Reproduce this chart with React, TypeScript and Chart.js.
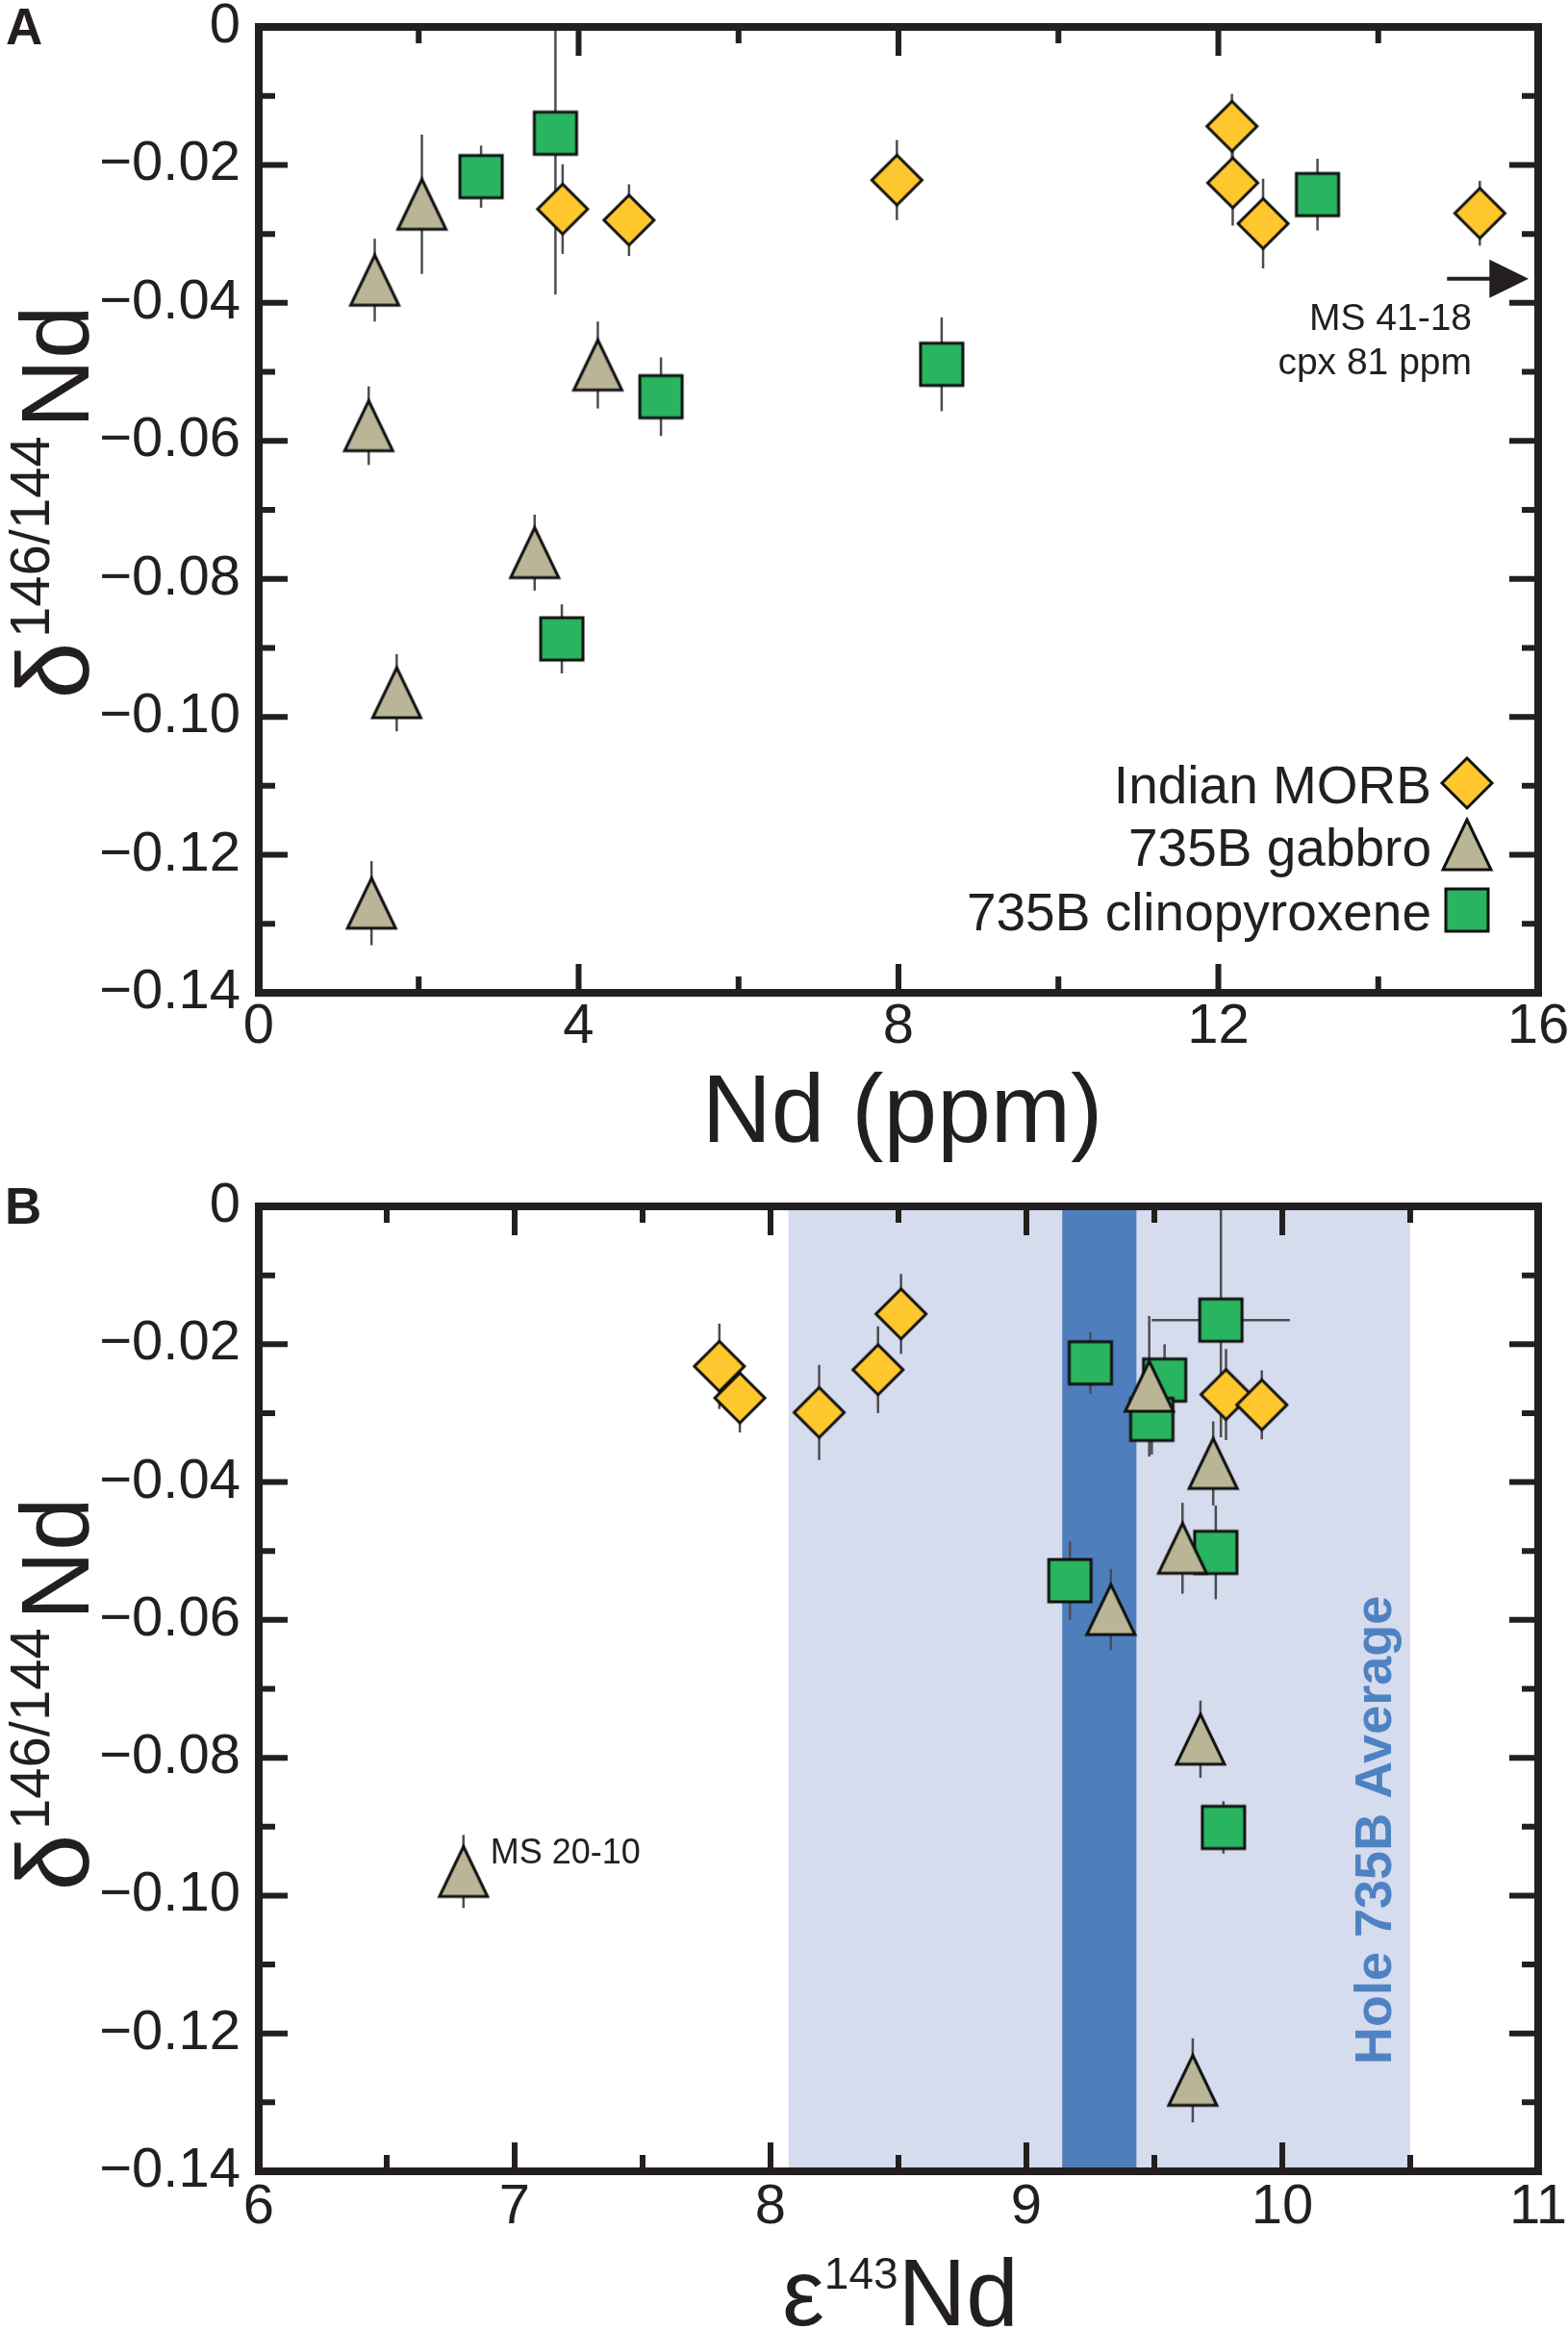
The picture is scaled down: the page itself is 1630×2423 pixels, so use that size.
import { useEffect, useRef } from 'react'
import { Chart, registerables } from 'chart.js'

Chart.register(...registerables)

const FONT = '"Liberation Sans", Arial, Helvetica, sans-serif'
const INK = '#231f20'

// Panel A: Nd (ppm) vs delta146/144Nd
const morbNdA = [3.8, 4.63, 7.98, 12.17, 12.18, 12.56, 15.27]
const morbDeltaA = [-0.0264, -0.028, -0.0222, -0.0144, -0.0226, -0.0285, -0.027]
const morbErrA = [0.0065, 0.0052, 0.0058, 0.0047, 0.0062, 0.0065, 0.0047]

const gabbroNdA = [2.04, 1.45, 1.375, 3.45, 1.725, 1.41, 4.24]
const gabbroDeltaA = [-0.0257, -0.0367, -0.0578, -0.0762, -0.0965, -0.127, -0.049]
const gabbroErrA = [0.0101, 0.006, 0.0057, 0.0055, 0.0056, 0.0061, 0.0063]

const cpxNdA = [2.78, 3.71, 5.03, 3.79, 13.24, 8.54]
const cpxDeltaA = [-0.0217, -0.0154, -0.0536, -0.0887, -0.0243, -0.0489]
const cpxErrA = [0.0045, 0.0234, 0.0057, 0.005, 0.0052, 0.0068]

// Panel B: epsilon143Nd vs delta146/144Nd
const morbEpsB = [7.8, 7.88, 8.19, 8.42, 8.51, 9.78, 9.92]
const morbDeltaB = [-0.0232, -0.0278, -0.0299, -0.0237, -0.0156, -0.0273, -0.0288]
const morbErrB = [0.0062, 0.005, 0.0069, 0.0063, 0.0058, 0.0066, 0.005]

const gabbroEpsB = [9.48, 9.73, 9.61, 9.33, 9.68, 9.65, 6.8]
const gabbroDeltaB = [-0.0261, -0.0373, -0.0496, -0.0585, -0.0773, -0.1268, -0.0965]
const gabbroErrB = [0.0102, 0.0061, 0.0066, 0.0059, 0.0056, 0.0061, 0.0053]

const cpxEpsB = [9.25, 9.54, 9.49, 9.76, 9.17, 9.74, 9.77]
const cpxDeltaB = [-0.0227, -0.0252, -0.0309, -0.0165, -0.0543, -0.0502, -0.0901]
const cpxErrB = [0.0045, 0.0052, 0.0051, 0.017, 0.0057, 0.0068, 0.0038]
const cpxEpsErrB = [0, 0, 0, 0.27, 0, 0, 0]

// Hole 735B average (full band and mean band)
const holeRange = [8.07, 10.5]
const holeMean = [9.14, 9.43]

// axis ranges
const deltaRange = [-0.14, 0]
const ndRange = [0, 16]
const epsRange = [6, 11]

const colors = {
  morb: '#fec72e',
  gabbro: '#b9b596',
  cpx: '#29b45f',
  err: '#4d4d4f',
  bandLight: '#d5dcee',
  bandDark: '#4e7fbc',
  holeText: '#4f82c2',
}

type Series = { xs: number[]; ys: number[]; yErr: number[]; xErr?: number[] }

function marker(kind: 'diamond' | 'triangle' | 'square') {
  const c = document.createElement('canvas')
  const w = kind === 'diamond' ? 58 : kind === 'triangle' ? 56 : 50
  const h = kind === 'diamond' ? 58 : kind === 'triangle' ? 58 : 50
  c.width = w
  c.height = h
  const g = c.getContext('2d')!
  const cx = w / 2
  const cy = h / 2
  g.beginPath()
  if (kind === 'diamond') {
    g.moveTo(cx, cy - 26)
    g.lineTo(cx + 26, cy)
    g.lineTo(cx, cy + 26)
    g.lineTo(cx - 26, cy)
    g.fillStyle = colors.morb
  } else if (kind === 'triangle') {
    g.moveTo(cx, cy - 26)
    g.lineTo(cx + 25, cy + 26)
    g.lineTo(cx - 25, cy + 26)
    g.fillStyle = colors.gabbro
  } else {
    g.rect(cx - 22, cy - 22, 44, 44)
    g.fillStyle = colors.cpx
  }
  g.closePath()
  g.fill()
  g.lineWidth = 3
  g.lineJoin = 'miter'
  g.strokeStyle = '#111'
  g.stroke()
  return c
}

function drawErrors(chart: any, series: Series[]) {
  const { ctx, chartArea: a, scales } = chart
  const x = scales.x
  const y = scales.y
  ctx.save()
  ctx.beginPath()
  ctx.rect(a.left, a.top, a.width, a.height)
  ctx.clip()
  ctx.strokeStyle = colors.err
  ctx.lineWidth = 2.5
  series.forEach((s) => {
    s.xs.forEach((xv, i) => {
      const px = x.getPixelForValue(xv)
      const py = y.getPixelForValue(s.ys[i])
      ctx.beginPath()
      ctx.moveTo(px, y.getPixelForValue(s.ys[i] + s.yErr[i]))
      ctx.lineTo(px, y.getPixelForValue(s.ys[i] - s.yErr[i]))
      ctx.stroke()
      const xe = s.xErr ? s.xErr[i] : 0
      if (xe) {
        ctx.beginPath()
        ctx.moveTo(x.getPixelForValue(xv - xe), py)
        ctx.lineTo(x.getPixelForValue(xv + xe), py)
        ctx.stroke()
      }
    })
  })
  ctx.restore()
}

function drawFrame(chart: any, isMajorX: (v: number) => boolean) {
  const { ctx, chartArea: a, scales } = chart
  const x = scales.x
  const y = scales.y
  ctx.save()
  ctx.strokeStyle = INK
  ctx.lineWidth = 6
  x.ticks.forEach((t: any) => {
    const px = x.getPixelForValue(t.value)
    const len = isMajorX(t.value) ? 30 : 17
    ctx.beginPath()
    ctx.moveTo(px, a.bottom)
    ctx.lineTo(px, a.bottom - len)
    ctx.moveTo(px, a.top)
    ctx.lineTo(px, a.top + len)
    ctx.stroke()
  })
  y.ticks.forEach((t: any) => {
    const py = y.getPixelForValue(t.value)
    const len = Math.round(t.value * 100) % 2 === 0 ? 30 : 17
    ctx.beginPath()
    ctx.moveTo(a.left, py)
    ctx.lineTo(a.left + len, py)
    ctx.moveTo(a.right, py)
    ctx.lineTo(a.right - len, py)
    ctx.stroke()
  })
  ctx.lineWidth = 8
  ctx.strokeRect(a.left, a.top, a.width, a.height)
  ctx.restore()
}

function drawDeltaTitle(ctx: CanvasRenderingContext2D, cx: number, cy: number) {
  ctx.save()
  ctx.translate(cx, cy)
  ctx.rotate(-Math.PI / 2)
  const big = `100px ${FONT}`
  const small = `58px ${FONT}`
  ctx.font = big
  const wD = ctx.measureText('δ').width
  const wN = ctx.measureText('Nd').width
  ctx.font = small
  const wS = ctx.measureText('146/144').width
  const gap = 8
  let xx = -(wD + wS + wN + 2 * gap) / 2
  ctx.fillStyle = INK
  ctx.textAlign = 'left'
  ctx.textBaseline = 'alphabetic'
  ctx.font = `106px ${FONT}`
  ctx.fillText('δ', xx, 0)
  xx += wD + gap
  ctx.font = small
  ctx.fillText('146/144', xx, -41)
  xx += wS + gap
  ctx.font = big
  ctx.fillText('Nd', xx, 0)
  ctx.restore()
}

function deltaLabel(v: number) {
  const k = Math.round(v * 100)
  if (k % 2 !== 0) return ''
  return k === 0 ? '0' : '\u2212' + (Math.abs(k) / 100).toFixed(2)
}

// keep the plot frame exactly where the layout padding puts it
function noOverflow(s: any) {
  s.paddingTop = 0
  s.paddingBottom = 0
  s.paddingLeft = 0
  s.paddingRight = 0
}

function yScale() {
  return {
    type: 'linear',
    min: deltaRange[0],
    max: deltaRange[1],
    afterFit: (s: any) => {
      s.width = 269
      noOverflow(s)
    },
    grid: { display: false, drawTicks: false },
    border: { display: false },
    ticks: {
      stepSize: 0.01,
      autoSkip: false,
      padding: 19,
      color: INK,
      font: { size: 58, family: FONT, lineHeight: 1 },
      callback: (v: any) => deltaLabel(Number(v)),
    },
  }
}

function buildA(mk: Record<string, HTMLCanvasElement>) {
  const series: Series[] = [
    { xs: morbNdA, ys: morbDeltaA, yErr: morbErrA },
    { xs: gabbroNdA, ys: gabbroDeltaA, yErr: gabbroErrA },
    { xs: cpxNdA, ys: cpxDeltaA, yErr: cpxErrA },
  ]
  const majorX = (v: number) => Math.round(v) % 4 === 0
  const decor = {
    id: 'decorA',
    beforeDatasetsDraw(chart: any) {
      drawErrors(chart, series)
    },
    afterDatasetsDraw(chart: any) {
      const { ctx, scales } = chart
      const x = scales.x
      const y = scales.y
      drawFrame(chart, majorX)

      // arrow pointing to the off-scale cpx sample
      const ay = y.getPixelForValue(-0.0365)
      ctx.save()
      ctx.strokeStyle = INK
      ctx.fillStyle = INK
      ctx.lineWidth = 4
      ctx.beginPath()
      ctx.moveTo(x.getPixelForValue(14.86), ay)
      ctx.lineTo(x.getPixelForValue(15.42), ay)
      ctx.stroke()
      ctx.beginPath()
      ctx.moveTo(x.getPixelForValue(15.39), ay - 20)
      ctx.lineTo(x.getPixelForValue(15.88), ay)
      ctx.lineTo(x.getPixelForValue(15.39), ay + 20)
      ctx.closePath()
      ctx.fill()
      ctx.font = `39px ${FONT}`
      ctx.textAlign = 'right'
      ctx.textBaseline = 'alphabetic'
      ctx.fillText('MS 41-18', x.getPixelForValue(15.17), y.getPixelForValue(-0.0439))
      ctx.fillText('cpx 81 ppm', x.getPixelForValue(15.17), y.getPixelForValue(-0.0503))

      // legend
      ctx.font = `55px ${FONT}`
      const items: [string, HTMLCanvasElement, number, number][] = [
        ['Indian MORB', mk.diamond, 835, 814],
        ['735B gabbro', mk.triangle, 900, 878],
        ['735B clinopyroxene', mk.square, 967, 946],
      ]
      items.forEach(([t, img, base, my]) => {
        ctx.fillText(t, 1488, base)
        ctx.drawImage(img, 1525 - img.width / 2, my - img.height / 2)
      })

      // titles
      ctx.textAlign = 'center'
      ctx.font = `100px ${FONT}`
      ctx.fillText('Nd (ppm)', 938, 1187)
      ctx.textAlign = 'left'
      ctx.font = `bold 53px ${FONT}`
      ctx.fillText('A', 6, 46)
      ctx.restore()
      drawDeltaTitle(ctx, 92, 522)
    },
  }
  return {
    type: 'scatter',
    data: {
      datasets: [
        { label: 'Indian MORB', data: morbNdA.map((v, i) => ({ x: v, y: morbDeltaA[i] })), pointStyle: mk.diamond, pointRadius: 26, order: 1 },
        { label: '735B gabbro', data: gabbroNdA.map((v, i) => ({ x: v, y: gabbroDeltaA[i] })), pointStyle: mk.triangle, pointRadius: 26, order: 0 },
        { label: '735B clinopyroxene', data: cpxNdA.map((v, i) => ({ x: v, y: cpxDeltaA[i] })), pointStyle: mk.square, pointRadius: 26, order: 2 },
      ],
    },
    options: {
      responsive: false,
      animation: false,
      events: [],
      layout: { padding: { left: 0, top: 28, right: 31, bottom: 0 } },
      plugins: { legend: { display: false }, tooltip: { enabled: false } },
      scales: {
        x: {
          type: 'linear',
          min: ndRange[0],
          max: ndRange[1],
          afterFit: (s: any) => {
            s.height = 179
            noOverflow(s)
          },
          grid: { display: false, drawTicks: false },
          border: { display: false },
          ticks: {
            stepSize: 2,
            autoSkip: false,
            maxRotation: 0,
            padding: 7,
            color: INK,
            font: { size: 58, family: FONT, lineHeight: 1 },
            callback: (v: any) => (majorX(Number(v)) ? String(v) : ''),
          },
        },
        y: yScale(),
      },
    },
    plugins: [decor],
  }
}

function buildB(mk: Record<string, HTMLCanvasElement>) {
  const series: Series[] = [
    { xs: morbEpsB, ys: morbDeltaB, yErr: morbErrB },
    { xs: gabbroEpsB, ys: gabbroDeltaB, yErr: gabbroErrB },
    { xs: cpxEpsB, ys: cpxDeltaB, yErr: cpxErrB, xErr: cpxEpsErrB },
  ]
  const majorX = (v: number) => Math.abs(v - Math.round(v)) < 1e-6
  const decor = {
    id: 'decorB',
    beforeDatasetsDraw(chart: any) {
      const { ctx, chartArea: a, scales } = chart
      const x = scales.x
      ctx.save()
      ctx.fillStyle = colors.bandLight
      ctx.fillRect(x.getPixelForValue(holeRange[0]), a.top, x.getPixelForValue(holeRange[1]) - x.getPixelForValue(holeRange[0]), a.height)
      ctx.fillStyle = colors.bandDark
      ctx.fillRect(x.getPixelForValue(holeMean[0]), a.top, x.getPixelForValue(holeMean[1]) - x.getPixelForValue(holeMean[0]), a.height)
      ctx.restore()
      drawErrors(chart, series)
    },
    afterDatasetsDraw(chart: any) {
      const { ctx, scales } = chart
      const x = scales.x
      const y = scales.y
      drawFrame(chart, majorX)
      ctx.save()
      ctx.fillStyle = INK
      ctx.textBaseline = 'alphabetic'
      ctx.textAlign = 'left'
      ctx.font = `36px ${FONT}`
      ctx.fillText('MS 20-10', x.getPixelForValue(6.905), y.getPixelForValue(-0.0953))

      // rotated band label
      ctx.save()
      ctx.translate(x.getPixelForValue(10.425), y.getPixelForValue(-0.0905))
      ctx.rotate(-Math.PI / 2)
      ctx.fillStyle = colors.holeText
      ctx.textAlign = 'center'
      ctx.font = `bold 54px ${FONT}`
      ctx.fillText('Hole 735B Average', 0, 0)
      ctx.restore()

      // x title with superscript
      ctx.fillStyle = INK
      const big = `98px ${FONT}`
      const small = `46px ${FONT}`
      ctx.font = big
      const wE = ctx.measureText('ε').width
      const wN = ctx.measureText('Nd').width
      ctx.font = small
      const wS = ctx.measureText('143').width
      let xx = 936 - (wE + wS + wN) / 2
      const base = 1206
      ctx.font = big
      ctx.fillText('ε', xx, base)
      xx += wE
      ctx.font = small
      ctx.fillText('143', xx, base - 38)
      xx += wS
      ctx.font = big
      ctx.fillText('Nd', xx, base)

      ctx.font = `bold 53px ${FONT}`
      ctx.fillText('B', 5, 61)
      ctx.restore()
      drawDeltaTitle(ctx, 92, 550)
    },
  }
  return {
    type: 'scatter',
    data: {
      datasets: [
        { label: 'Indian MORB', data: morbEpsB.map((v, i) => ({ x: v, y: morbDeltaB[i] })), pointStyle: mk.diamond, pointRadius: 26, order: 1 },
        { label: '735B gabbro', data: gabbroEpsB.map((v, i) => ({ x: v, y: gabbroDeltaB[i] })), pointStyle: mk.triangle, pointRadius: 26, order: 0 },
        { label: '735B clinopyroxene', data: cpxEpsB.map((v, i) => ({ x: v, y: cpxDeltaB[i] })), pointStyle: mk.square, pointRadius: 26, order: 2 },
      ],
    },
    options: {
      responsive: false,
      animation: false,
      events: [],
      layout: { padding: { left: 0, top: 43, right: 31, bottom: 0 } },
      plugins: { legend: { display: false }, tooltip: { enabled: false } },
      scales: {
        x: {
          type: 'linear',
          min: epsRange[0],
          max: epsRange[1],
          afterFit: (s: any) => {
            s.height = 166
            noOverflow(s)
          },
          grid: { display: false, drawTicks: false },
          border: { display: false },
          ticks: {
            stepSize: 0.5,
            autoSkip: false,
            maxRotation: 0,
            padding: 9,
            color: INK,
            font: { size: 58, family: FONT, lineHeight: 1 },
            callback: (v: any) => (majorX(Number(v)) ? String(Math.round(Number(v))) : ''),
          },
        },
        y: yScale(),
      },
    },
    plugins: [decor],
  }
}

function Panel({ build, top, height }: { build: (mk: Record<string, HTMLCanvasElement>) => any; top: number; height: number }) {
  const ref = useRef<HTMLCanvasElement>(null)
  const chartRef = useRef<Chart | null>(null)

  useEffect(() => {
    if (!ref.current) return
    if (chartRef.current) chartRef.current.destroy()
    const mk = { diamond: marker('diamond'), triangle: marker('triangle'), square: marker('square') }
    chartRef.current = new Chart(ref.current, build(mk))
    return () => {
      if (chartRef.current) {
        chartRef.current.destroy()
        chartRef.current = null
      }
    }
  }, [build])

  return (
    <canvas
      ref={ref}
      width={1630}
      height={height}
      style={{ position: 'absolute', left: 0, top, width: 1630, height }}
    />
  )
}

export default function App() {
  return (
    <div style={{ position: 'absolute', left: 0, top: 0, width: 1630, height: 2423, background: '#fff', fontFamily: FONT }}>
      <Panel build={buildA} top={0} height={1211} />
      <Panel build={buildB} top={1211} height={1212} />
    </div>
  )
}
